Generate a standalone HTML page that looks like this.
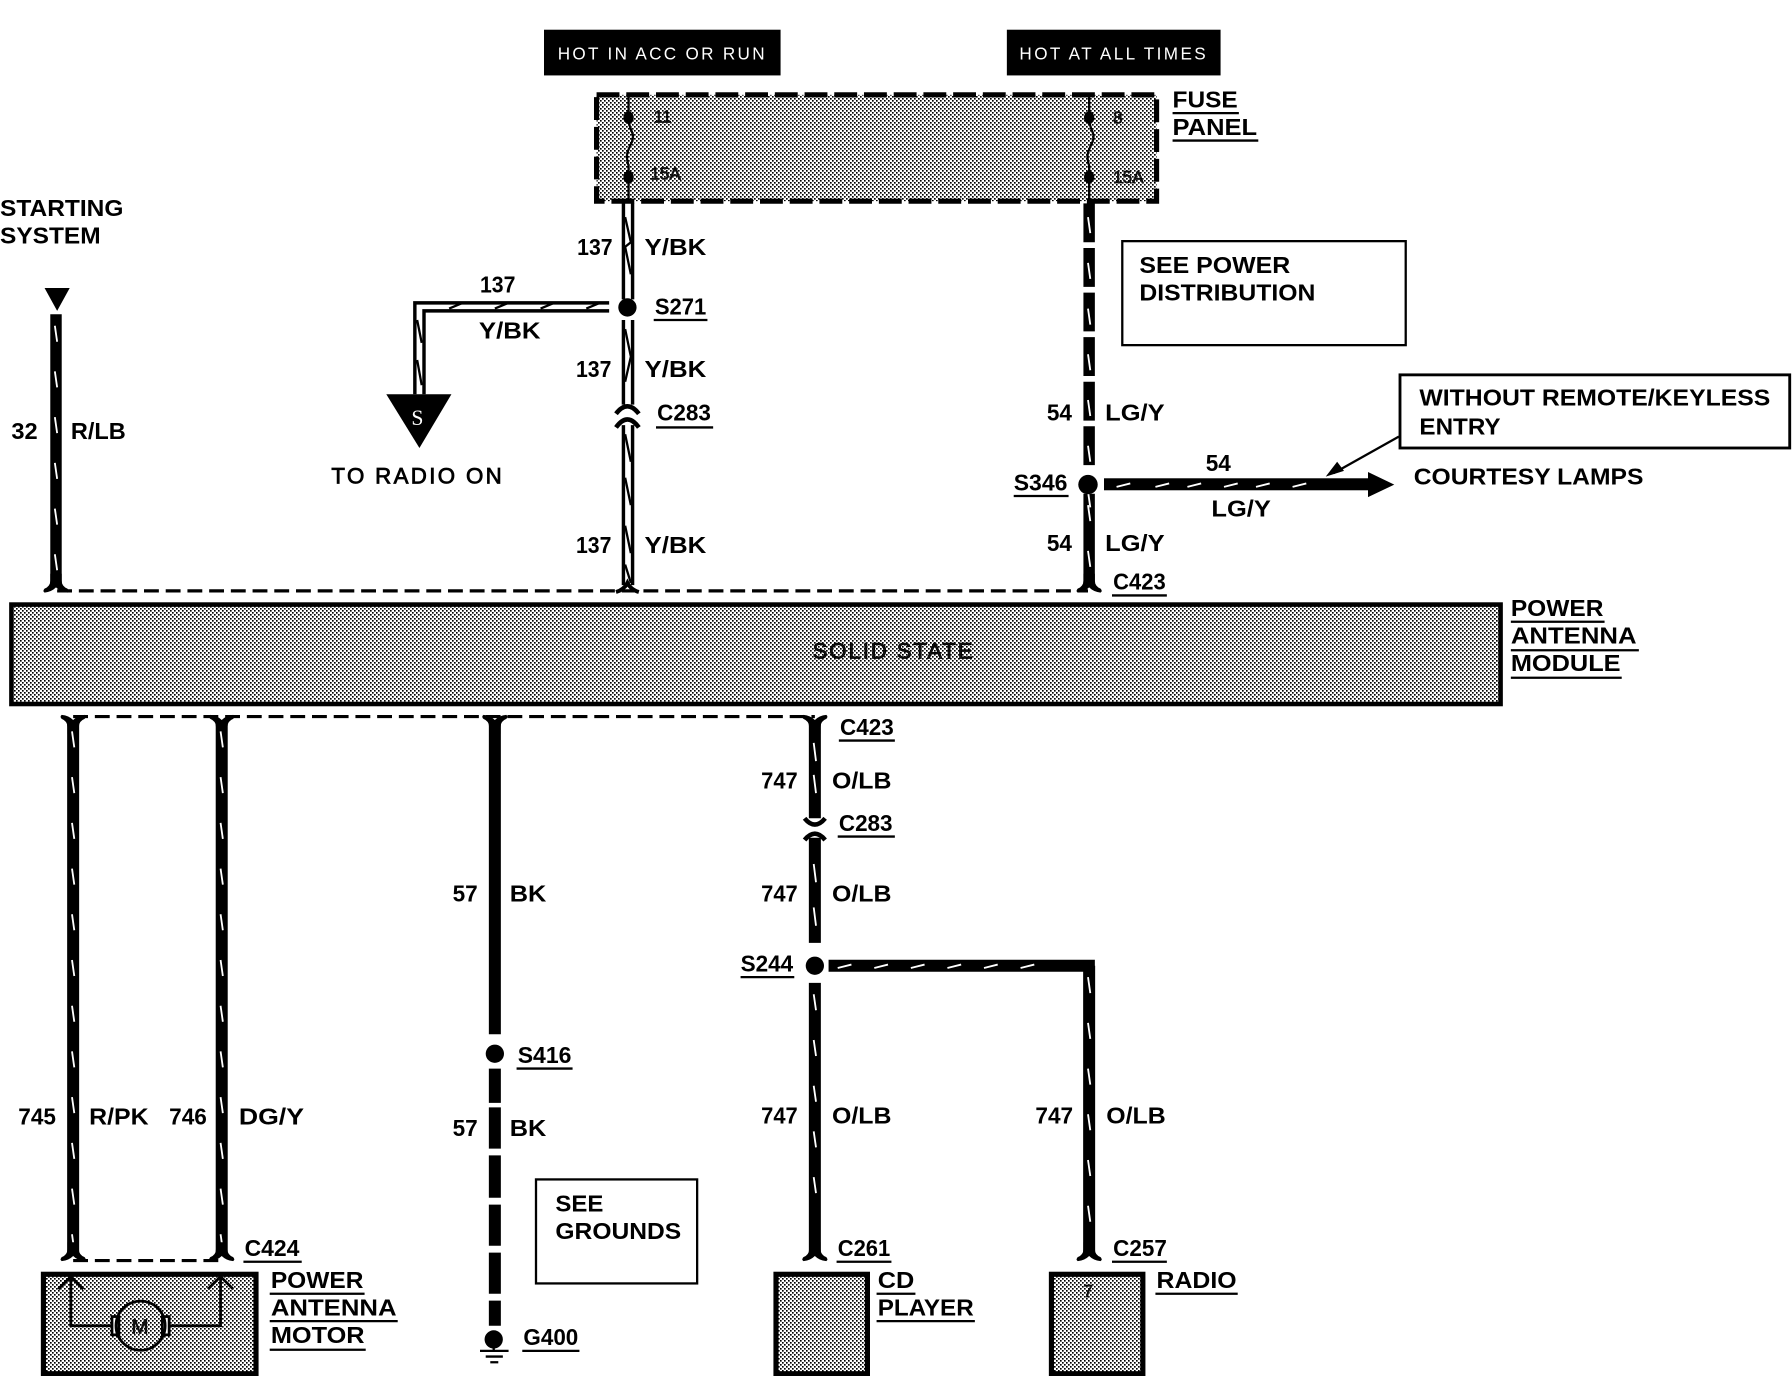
<!DOCTYPE html>
<html><head><meta charset="utf-8"><style>
html,body{margin:0;padding:0;background:#fff}
svg{display:block}
text{font-family:"Liberation Sans",sans-serif;font-weight:700;font-size:20.5px;fill:#000}
.r{font-weight:400;font-size:19.5px;stroke:#000;stroke-width:.7}
.h{font-weight:400;font-size:15px;fill:#fff}
.s{font-size:15px;font-weight:400;fill:#111;stroke:#111;stroke-width:.6}
</style></head><body>
<svg xmlns="http://www.w3.org/2000/svg" width="1792" height="1376" viewBox="0 0 1568 1204">
<defs>
<pattern id="d" width="3.5" height="3.5" patternUnits="userSpaceOnUse"><rect width="3.5" height="3.5" fill="#fff"/><rect width="1.45" height="1.45" fill="#000"/><rect x="1.75" y="1.75" width="1.45" height="1.45" fill="#000"/></pattern>
<path id="f" d="M-5 -14V-8Q-5 -3 -10 -1Q-12 1 -10 2.5Q-4 2 0 -2Q4 2 10 2.5Q12 1 10 -1Q5 -3 5 -8V-14Z"/>
</defs>
<rect width="1568" height="1204" fill="#fff"/>

<!-- header tags -->
<rect x="476" y="26" width="207" height="40" fill="#000"/>
<rect x="881" y="26" width="187" height="40" fill="#000"/>
<text class="h" x="488" y="52" textLength="181">HOT IN ACC OR RUN</text>
<text class="h" x="892" y="52" textLength="163">HOT AT ALL TIMES</text>

<!-- fuse panel -->
<rect x="522" y="83" width="490" height="93" fill="url(#d)"/>
<rect x="522" y="83" width="490" height="93" fill="none" stroke="#000" stroke-width="4.5" stroke-dasharray="20 6"/>
<g fill="none" stroke="#000" stroke-width="2">
<path d="M550 84V103C550 115 556 115 553 124C549 133 547 135 550 145V176"/>
<path d="M953 84V103C953 115 959 115 956 124C952 133 950 135 953 145V176"/>
</g>
<ellipse cx="550" cy="103" rx="4.5" ry="5.5"/><ellipse cx="550" cy="155" rx="4.5" ry="5.5"/>
<ellipse cx="953" cy="103" rx="4.5" ry="5.5"/><ellipse cx="953" cy="155" rx="4.5" ry="5.5"/>
<text class="s" x="572" y="107">11</text><text class="s" x="569" y="157">15A</text>
<text class="s" x="974" y="108">8</text><text class="s" x="974" y="160">15A</text>
<text x="1026" y="94" textLength="57" lengthAdjust="spacingAndGlyphs">FUSE</text>
<text x="1026" y="118" textLength="74" lengthAdjust="spacingAndGlyphs">PANEL</text>
<path d="M1026 99H1084M1026 123H1101" stroke="#000" stroke-width="2"/>

<!-- 137 double wires -->
<g fill="none" stroke="#000" stroke-width="3">
<path d="M545.5 178V262M553.5 178V262M545.5 280V354M553.5 280V354M545.5 372V512M553.5 372V512"/>
<path d="M533 265H363V345M533 272H371V345"/>
</g>
<g fill="none" stroke="#000" stroke-width="2">
<path d="M547 190l5 22l-5 4l5 24M547 288l5 24l-5 22M547 380l5 24M547 418l5 24M547 460l5 24M547 494l5 16"/>
<path d="M393 270l12 -5m28 5l12 -5m28 5l12 -5m28 5l12 -5"/>
<path d="M365 280l4 20M365 315l4 22"/>
</g>
<circle cx="549" cy="269" r="8"/>
<path d="M539 362Q549 349 559 362M539 374Q549 360 559 374" fill="none" stroke="#000" stroke-width="4"/>
<path d="M338 345H395L367 392Z"/>
<text x="360" y="372" style="font-family:'Liberation Serif',serif;font-weight:400;font-size:19px;fill:#fff">S</text>
<text class="r" x="290" y="423" textLength="149">TO RADIO ON</text>

<text x="505" y="223" textLength="31" lengthAdjust="spacingAndGlyphs">137</text><text x="564" y="223" textLength="54" lengthAdjust="spacingAndGlyphs">Y/BK</text>
<text x="420" y="256" textLength="31" lengthAdjust="spacingAndGlyphs">137</text><text x="419" y="296" textLength="54" lengthAdjust="spacingAndGlyphs">Y/BK</text>
<text x="573" y="275" textLength="45" lengthAdjust="spacingAndGlyphs">S271</text><path d="M572 280H619" stroke="#000" stroke-width="2"/>
<text x="504" y="330" textLength="31" lengthAdjust="spacingAndGlyphs">137</text><text x="564" y="330" textLength="54" lengthAdjust="spacingAndGlyphs">Y/BK</text>
<text x="575" y="368" textLength="47" lengthAdjust="spacingAndGlyphs">C283</text><path d="M574 374H624" stroke="#000" stroke-width="2"/>
<text x="504" y="484" textLength="31" lengthAdjust="spacingAndGlyphs">137</text><text x="564" y="484" textLength="54" lengthAdjust="spacingAndGlyphs">Y/BK</text>

<!-- starting system -->
<text x="0" y="189" textLength="108" lengthAdjust="spacingAndGlyphs">STARTING</text>
<text x="0" y="213" textLength="88" lengthAdjust="spacingAndGlyphs">SYSTEM</text>
<path d="M39 252H61L50 272Z"/>
<path d="M49 275V512" stroke="#000" stroke-width="10"/>
<path d="M48 285l2 14m-2 26l2 14m-2 26l2 14m-2 26l2 14m-2 26l2 14m-2 26l2 14m-2 26l2 14" stroke="#fff" stroke-width="1.6" fill="none"/>
<text x="10" y="384" textLength="23" lengthAdjust="spacingAndGlyphs">32</text><text x="62" y="384" textLength="48" lengthAdjust="spacingAndGlyphs">R/LB</text>

<!-- right wire -->
<path d="M953 178V412" stroke="#000" stroke-width="10" stroke-dasharray="34 5"/>
<path d="M953 432V512" stroke="#000" stroke-width="10"/>
<path d="M952 190l2 14m-2 26l2 14m-2 26l2 14m-2 26l2 14m-2 26l2 14m-2 26l2 14m-2 26l2 14" stroke="#fff" stroke-width="1.6" fill="none"/>
<path d="M952 442l2 14m-2 26l2 14" stroke="#fff" stroke-width="1.6" fill="none"/>
<circle cx="952" cy="424" r="8.5"/>
<rect x="966" y="418.5" width="232" height="10.5"/>
<path d="M1197 413L1220 424L1197 435Z"/>
<path d="M977 426l12 -3m22 3l12 -3m16 3l12 -3m20 3l12 -3m16 3l12 -3m20 3l12 -3" stroke="#fff" stroke-width="1.6" fill="none"/>
<path d="M1224 382L1167 414" stroke="#000" stroke-width="2"/><path d="M1160 417L1170 404L1176 412Z"/>
<rect x="982" y="211" width="248" height="91" fill="none" stroke="#000" stroke-width="2"/>
<text x="997" y="239" textLength="132" lengthAdjust="spacingAndGlyphs">SEE POWER</text>
<text x="997" y="263" textLength="154" lengthAdjust="spacingAndGlyphs">DISTRIBUTION</text>
<rect x="1225" y="328" width="341" height="64" fill="none" stroke="#000" stroke-width="2.5"/>
<text x="1242" y="355" textLength="307" lengthAdjust="spacingAndGlyphs">WITHOUT REMOTE/KEYLESS</text>
<text x="1242" y="380" textLength="71" lengthAdjust="spacingAndGlyphs">ENTRY</text>
<text x="916" y="368" textLength="22" lengthAdjust="spacingAndGlyphs">54</text><text x="967" y="368" textLength="52" lengthAdjust="spacingAndGlyphs">LG/Y</text>
<text x="1055" y="412" textLength="22" lengthAdjust="spacingAndGlyphs">54</text><text x="1060" y="452" textLength="52" lengthAdjust="spacingAndGlyphs">LG/Y</text>
<text x="1237" y="424" textLength="201" lengthAdjust="spacingAndGlyphs">COURTESY LAMPS</text>
<text x="887" y="429" textLength="47" lengthAdjust="spacingAndGlyphs">S346</text><path d="M887 434H935" stroke="#000" stroke-width="2"/>
<text x="916" y="482" textLength="22" lengthAdjust="spacingAndGlyphs">54</text><text x="967" y="482" textLength="52" lengthAdjust="spacingAndGlyphs">LG/Y</text>
<text x="974" y="516" textLength="46" lengthAdjust="spacingAndGlyphs">C423</text><path d="M973 521H1021" stroke="#000" stroke-width="2"/>

<!-- module -->
<path d="M50 517H952" stroke="#000" stroke-width="2.8" stroke-dasharray="13 6"/>
<use href="#f" transform="translate(49,516)"/>
<use href="#f" transform="translate(953,516)"/>
<path d="M539 518Q546 516 549 510Q552 516 559 518" fill="none" stroke="#000" stroke-width="3.5"/>
<rect x="10" y="529" width="1303" height="87" fill="url(#d)" stroke="#000" stroke-width="4"/>
<text class="r" x="711" y="576" textLength="140" style="fill:#111">SOLID STATE</text>
<text x="1322" y="539" textLength="81" lengthAdjust="spacingAndGlyphs">POWER</text>
<text x="1322" y="563" textLength="110" lengthAdjust="spacingAndGlyphs">ANTENNA</text>
<text x="1322" y="587" textLength="96" lengthAdjust="spacingAndGlyphs">MODULE</text>
<path d="M1322 544H1404M1322 569H1434M1322 593H1419" stroke="#000" stroke-width="2"/>

<path d="M64 627H713" stroke="#000" stroke-width="2.8" stroke-dasharray="13 6"/>
<use href="#f" transform="translate(64,628) scale(1,-1)"/>
<use href="#f" transform="translate(194,628) scale(1,-1)"/>
<use href="#f" transform="translate(433,628) scale(1,-1)"/>
<use href="#f" transform="translate(713,628) scale(1,-1)"/>

<!-- lower wires -->
<g stroke="#000" stroke-width="10.5" fill="none">
<path d="M64 632V1098M194 632V1098M433 632V905"/>
<path d="M433 935V965M433 969V1005M433 1011V1048M433 1054V1090M433 1096V1132M433 1138V1160"/>
<path d="M713 632V716M713 733V825M713 860V1098"/>
<path d="M725 845H958M953 845V1098"/>
</g>
<g stroke="#fff" stroke-width="1.6" fill="none">
<path d="M63 640l2 14m-2 26l2 14m-2 26l2 14m-2 26l2 14m-2 26l2 14m-2 26l2 14m-2 26l2 14m-2 26l2 14m-2 26l2 14m-2 26l2 14m-2 26l2 14m-2 26l2 14"/>
<path d="M193 640l2 14m-2 26l2 14m-2 26l2 14m-2 26l2 14m-2 26l2 14m-2 26l2 14m-2 26l2 14m-2 26l2 14m-2 26l2 14m-2 26l2 14m-2 26l2 14m-2 26l2 14"/>
<path d="M712 650l2 16m-2 12l2 16M712 756l2 16m-2 22l2 16M712 870l2 14m-2 26l2 14m-2 26l2 14m-2 26l2 14m-2 26l2 14"/>
<path d="M952 855l2 14m-2 26l2 14m-2 26l2 14m-2 26l2 14m-2 26l2 14m-2 26l2 14"/>
<path d="M733 847l12 -3m20 3l12 -3m20 3l12 -3m20 3l12 -3m20 3l12 -3m20 3l12 -3"/>
</g>
<g fill="none" stroke="#000" stroke-width="4">
<path d="M704 716Q713 727 722 716M704 735Q713 724 722 735"/>
</g>
<use href="#f" transform="translate(64,1101)"/>
<use href="#f" transform="translate(194,1101)"/>
<use href="#f" transform="translate(713,1101)"/>
<use href="#f" transform="translate(953,1101)"/>
<path d="M64 1103H194" stroke="#000" stroke-width="2.8" stroke-dasharray="13 6"/>
<circle cx="713" cy="845" r="8"/><circle cx="433" cy="922" r="8"/><circle cx="432" cy="1172" r="8"/>
<path d="M432 1175V1182M420 1182H445M425 1187H440M429 1192H436" stroke="#000" stroke-width="2"/>

<text x="735" y="643" textLength="47" lengthAdjust="spacingAndGlyphs">C423</text><path d="M734 648H783" stroke="#000" stroke-width="2"/>
<text x="666" y="690" textLength="32" lengthAdjust="spacingAndGlyphs">747</text><text x="728" y="690" textLength="52" lengthAdjust="spacingAndGlyphs">O/LB</text>
<text x="734" y="727" textLength="47" lengthAdjust="spacingAndGlyphs">C283</text><path d="M733 732H783" stroke="#000" stroke-width="2"/>
<text x="666" y="789" textLength="32" lengthAdjust="spacingAndGlyphs">747</text><text x="728" y="789" textLength="52" lengthAdjust="spacingAndGlyphs">O/LB</text>
<text x="648" y="850" textLength="46" lengthAdjust="spacingAndGlyphs">S244</text><path d="M648 855H695" stroke="#000" stroke-width="2"/>
<text x="396" y="789" textLength="22" lengthAdjust="spacingAndGlyphs">57</text><text x="446" y="789" textLength="32" lengthAdjust="spacingAndGlyphs">BK</text>
<text x="453" y="930" textLength="47" lengthAdjust="spacingAndGlyphs">S416</text><path d="M452 935H501" stroke="#000" stroke-width="2"/>
<text x="396" y="994" textLength="22" lengthAdjust="spacingAndGlyphs">57</text><text x="446" y="994" textLength="32" lengthAdjust="spacingAndGlyphs">BK</text>
<text x="16" y="984" textLength="33" lengthAdjust="spacingAndGlyphs">745</text><text x="78" y="984" textLength="52" lengthAdjust="spacingAndGlyphs">R/PK</text>
<text x="148" y="984" textLength="33" lengthAdjust="spacingAndGlyphs">746</text><text x="209" y="984" textLength="57" lengthAdjust="spacingAndGlyphs">DG/Y</text>
<text x="666" y="983" textLength="32" lengthAdjust="spacingAndGlyphs">747</text><text x="728" y="983" textLength="52" lengthAdjust="spacingAndGlyphs">O/LB</text>
<text x="906" y="983" textLength="33" lengthAdjust="spacingAndGlyphs">747</text><text x="968" y="983" textLength="52" lengthAdjust="spacingAndGlyphs">O/LB</text>

<rect x="469" y="1032" width="141" height="91" fill="none" stroke="#000" stroke-width="2"/>
<text x="486" y="1060" textLength="42" lengthAdjust="spacingAndGlyphs">SEE</text>
<text x="486" y="1084" textLength="110" lengthAdjust="spacingAndGlyphs">GROUNDS</text>
<text x="458" y="1177" textLength="48" lengthAdjust="spacingAndGlyphs">G400</text><path d="M457 1182H507" stroke="#000" stroke-width="2"/>

<text x="214" y="1099" textLength="48" lengthAdjust="spacingAndGlyphs">C424</text><path d="M213 1104H264" stroke="#000" stroke-width="2"/>
<text x="733" y="1099" textLength="46" lengthAdjust="spacingAndGlyphs">C261</text><path d="M732 1104H780" stroke="#000" stroke-width="2"/>
<text x="974" y="1099" textLength="47" lengthAdjust="spacingAndGlyphs">C257</text><path d="M973 1104H1021" stroke="#000" stroke-width="2"/>

<!-- motor -->
<rect x="38" y="1115" width="186" height="87" fill="url(#d)" stroke="#000" stroke-width="4.5"/>
<g fill="none" stroke="#000" stroke-width="2.4">
<path d="M62 1118V1160H98M193 1116V1160H148M51 1128L62 1117L73 1128M182 1128L193 1117L204 1128"/>
<rect x="98" y="1152" width="6" height="16" fill="#fff"/><rect x="142" y="1152" width="6" height="16" fill="#fff"/>
<circle cx="123" cy="1160" r="21.5"/>
</g>
<text class="s" x="115" y="1167" style="font-size:18px">M</text>
<text x="237" y="1127" textLength="81" lengthAdjust="spacingAndGlyphs">POWER</text>
<text x="237" y="1151" textLength="110" lengthAdjust="spacingAndGlyphs">ANTENNA</text>
<text x="237" y="1175" textLength="82" lengthAdjust="spacingAndGlyphs">MOTOR</text>
<path d="M236 1132H319M236 1156H348M236 1181H320" stroke="#000" stroke-width="2"/>

<!-- CD -->
<rect x="679" y="1115" width="80" height="87" fill="url(#d)" stroke="#000" stroke-width="4.5"/>
<text x="768" y="1127" textLength="32" lengthAdjust="spacingAndGlyphs">CD</text>
<text x="768" y="1151" textLength="84" lengthAdjust="spacingAndGlyphs">PLAYER</text>
<path d="M767 1132H801M767 1156H853" stroke="#000" stroke-width="2"/>

<!-- radio -->
<rect x="920" y="1115" width="80" height="87" fill="url(#d)" stroke="#000" stroke-width="4.5"/>
<text class="s" x="948" y="1135">7</text>
<text x="1012" y="1127" textLength="70" lengthAdjust="spacingAndGlyphs">RADIO</text>
<path d="M1011 1132H1083" stroke="#000" stroke-width="2"/>
</svg>
</body></html>
